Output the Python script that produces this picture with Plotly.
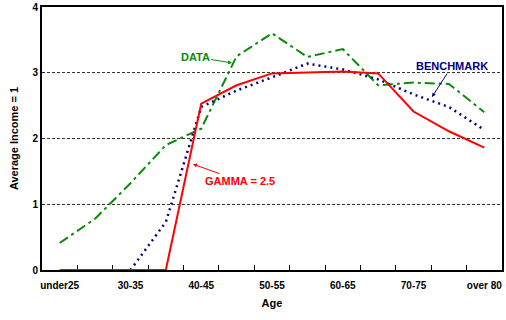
import plotly.graph_objects as go

# age groups on the x axis (only every other one is labelled)
ages = ['under25', '25-30', '30-35', '35-40', '40-45', '45-50', '50-55',
        '55-60', '60-65', '65-70', '70-75', '75-80', 'over 80']
age_labels = [a if i % 2 == 0 else '' for i, a in enumerate(ages)]

# income relative to average income (= 1)
data = [0.41, 0.78, 1.32, 1.9, 2.15, 3.25, 3.6, 3.24, 3.36, 2.81, 2.85, 2.83, 2.4]
benchmark = [None, None, 0.0, 0.73, 2.48, 2.73, 2.93, 3.14, 3.05, 2.9, 2.67, 2.48, 2.13]
gamma = [0.0, 0.0, 0.0, 0.0, 2.53, 2.81, 2.99, 3.0, 3.02, 2.99, 2.41, 2.11, 1.86]

FONT = 'Liberation Sans, Arial, sans-serif'

fig = go.Figure()

fig.add_trace(go.Scatter(
    x=ages, y=data, mode='lines', name='DATA',
    line=dict(color='#0a8a0a', width=2, dash='10px,4px,3px,4px')
))
fig.add_trace(go.Scatter(
    x=ages, y=benchmark, mode='lines', name='BENCHMARK',
    line=dict(color='#000080', width=2.5, dash='2px,4px')
))
fig.add_trace(go.Scatter(
    x=ages, y=gamma, mode='lines', name='GAMMA = 2.5',
    line=dict(color='#ff0000', width=2)
))

def label(text, color, x, y, ax, ay):
    fig.add_annotation(
        x=x, y=y, ax=ax, ay=ay, text=text, showarrow=True,
        arrowhead=2, arrowsize=0.8, arrowwidth=1, arrowcolor=color,
        font=dict(family=FONT, size=11, color=color, weight='bold')
    )

label('DATA', '#0a8a0a', 4.87, 3.15, -37, -6)
label('BENCHMARK', '#000080', 10.52, 2.63, 20, -31)
label('GAMMA = 2.5', '#ff0000', 3.77, 1.61, 47, 17)

fig.update_layout(
    width=506, height=320,
    margin=dict(l=42, r=4, t=7, b=50),
    paper_bgcolor='white', plot_bgcolor='white',
    showlegend=False,
    font=dict(family=FONT, size=10, color='black', weight='bold'),
    xaxis=dict(
        type='category', tickvals=ages, ticktext=age_labels, tickangle=0,
        tickson='boundaries', ticks='inside', ticklen=5, tickcolor='black',
        ticklabelstandoff=5,
        showline=True, linecolor='black', linewidth=2, mirror=True,
        showgrid=False, range=[-0.5, 12.5], automargin=False, layer='below traces',
        title=dict(text='Age', font=dict(size=11, weight='bold'), standoff=9),
        tickfont=dict(size=10, weight='bold')
    ),
    yaxis=dict(
        range=[0, 4], dtick=1, automargin=False, layer='below traces',
        showline=True, linecolor='black', linewidth=2, mirror=True,
        showgrid=True, gridcolor='#333333', gridwidth=1, griddash='3px,2px',
        zeroline=False, ticks='',
        title=dict(text='Average Income = 1', font=dict(size=11, weight='bold'), standoff=12),
        tickfont=dict(size=10, weight='bold')
    )
)

# drop the browser's default body margin so the chart sits at the window corner
fig.write_html('out.html', config={'displayModeBar': False},
               post_script="document.body.style.margin='0';")
